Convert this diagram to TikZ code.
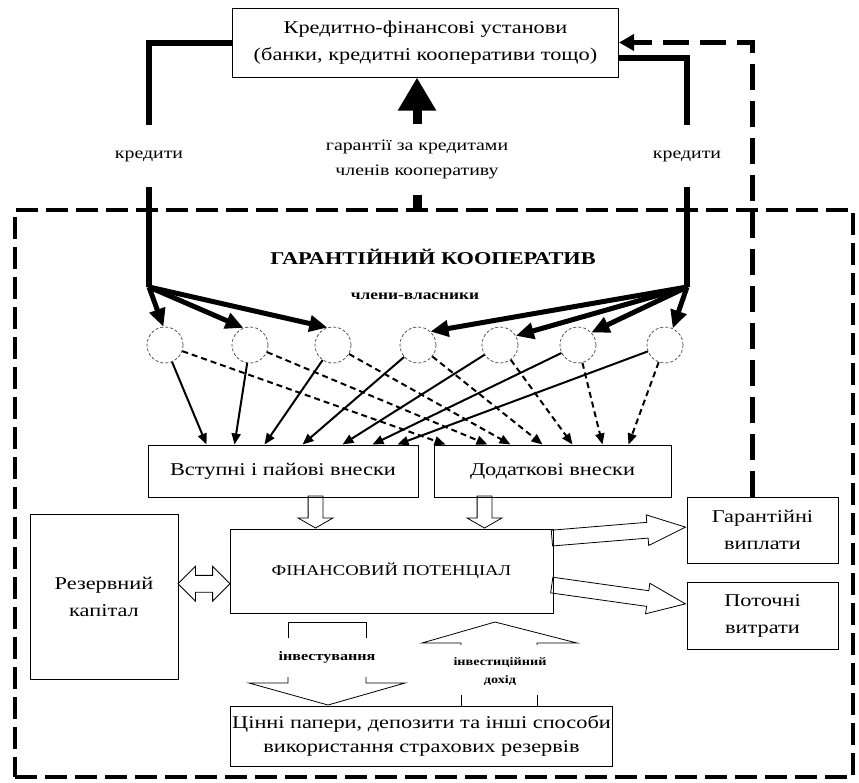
\documentclass[tikz,border=0pt]{standalone}
\usepackage{fontspec}
\setmainfont{Liberation Serif}[FakeStretch=1.24]
\usepackage{tikz}
\usetikzlibrary{arrows.meta,positioning,shapes.geometric,shapes.arrows,calc}

\begin{document}
\begin{tikzpicture}[
    x=1pt, y=1pt,
    box/.style={rectangle, draw=black, line width=1pt, fill=white, align=center, inner sep=2pt, font=\fontsize{18}{27}\selectfont},
    lbl/.style={align=center, inner sep=0pt, font=\fontsize{16}{25}\selectfont},
    member/.style={circle, draw=black!75, densely dashed, line width=0.7pt, minimum size=36pt, inner sep=0pt},
    thickline/.style={line width=6pt, line join=miter},
    fanarrow/.style={-{Triangle[length=18pt, width=16pt]}, line width=5pt},
    bigarrow/.style={-{Triangle[length=33pt, width=36pt]}, line width=9pt},
    solidarrow/.style={-{Triangle[length=11pt, width=9pt]}, line width=2pt},
    dasharrow/.style={-{Triangle[length=11pt, width=9pt]}, line width=2pt, dash pattern=on 6pt off 4pt},
    coopframe/.style={draw, line width=4.5pt, dash pattern=on 22pt off 8pt, inner sep=0pt},
    backarrow/.style={-{Triangle[length=15pt, width=16pt]}, line width=5pt, dash pattern=on 26pt off 11pt},
    hollow/.style={single arrow, draw, line width=0.8pt, inner sep=7pt, single arrow head extend=10pt, single arrow tip angle=120, anchor=tip},
    hollowline/.style={line width=0.8pt}
]
\useasboundingbox (0,0) rectangle (859,-782);

% cooperative frame
\node[coopframe, minimum width=838pt, minimum height=567pt] (coop) at (434,-493.5) {};

\node[box, minimum width=386pt, minimum height=69pt] (fin) at (425.5,-42.5) {Кредитно-фінансові установи\\(банки, кредитні кооперативи тощо)};
\node[lbl, minimum height=62pt] (kl) at (149,-156) {кредити};
\node[lbl, minimum height=62pt] (kr) at (687,-156) {кредити};
\node[lbl, minimum height=70pt] (gar) at (417,-159.5) {гарантії за кредитами\\членів кооперативу};

\node[font=\fontsize{18}{22}\selectfont\bfseries] (title) at (433,-257) {ГАРАНТІЙНИЙ КООПЕРАТИВ};
\node[font=\fontsize{14}{16}\selectfont\bfseries] (owners) at (415,-296) {члени-власники};

% members
\foreach \i/\x in {1/165,2/250,3/333,4/418,5/500,6/578,7/665}
  \node[member] (c\i) at (\x,-345) {};

\node[box, minimum width=270pt, minimum height=52pt] (vst) at (283,-471) {Вступні і пайові внески};
\node[box, minimum width=237pt, minimum height=52pt, right=15pt of vst] (dod) {Додаткові внески};
\node[box, minimum width=323pt, minimum height=84pt, font=\fontsize{15}{18}\selectfont] (fp) at (391.5,-571) {ФІНАНСОВИЙ ПОТЕНЦІАЛ};
\node[box, minimum width=148pt, minimum height=165pt] (rez) at (104,-596.5) {Резервний\\капітал};
\node[box, minimum width=151pt, minimum height=66pt] (gv) at (762.5,-530) {Гарантійні\\виплати};
\node[box, minimum width=151pt, minimum height=67pt, below=18pt of gv] (pv) {Поточні\\витрати};
\node[box, minimum width=377pt, minimum height=60pt, font=\fontsize{18}{24}\selectfont] (cp) at (421.5,-736) {Цінні папери, депозити та інші способи\\використання страхових резервів};

% credits and guarantees
\draw[thickline] (fin.west) -| (kl.north);
\coordinate (lsplit) at (149,-287);
\draw[thickline] (kl.south) -- (lsplit);
\draw[thickline] ($(fin.east)+(0,-15)$) -| (kr.north);
\coordinate (rsplit) at (687,-287);
\draw[thickline] (kr.south) -- (rsplit);
\draw[bigarrow] (gar.north) -- (gar.north |- fin.south);
\draw[line width=9pt] (gar.south) -- (gar.south |- coop.north);

\foreach \i/\a in {1/95,2/111,3/108}
  \draw[fanarrow] (lsplit) -- (c\i.\a);
\foreach \i/\a in {4/47,5/30,6/43,7/65}
  \draw[fanarrow] (rsplit) -- (c\i.\a);

% contributions
\foreach \i/\a/\b in {1/59/12,2/87/54,3/117/77,4/155/109,5/195/139,6/225/169,7/250/195} {
  \coordinate (s\i) at ($(vst.north west)+(\a,0)$);
  \coordinate (d\i) at ($(dod.north west)+(\b,0)$);
  \draw[solidarrow] (c\i) -- (s\i);
  \draw[dasharrow] (c\i) -- (d\i);
}

% hollow arrows
\node[hollow, rotate=-90, minimum height=32pt] (h1) at ($(fp.north west)+(86,0)$) {};
\node[hollow, rotate=-90, minimum height=32pt] (h2) at ($(fp.north west)+(255,0)$) {};
\node[double arrow, draw, line width=0.8pt, inner sep=8pt, double arrow head extend=9pt, double arrow tip angle=90, minimum height=52pt] (h3) at ($(rez.east)!0.5!(fp.west)$) {};
\node[hollow, inner sep=7.5pt, single arrow head extend=7.5pt, single arrow tip angle=44, rotate=4.7, minimum height=134pt] (h4) at ($(gv.west)+(0,3)$) {};
\node[hollow, inner sep=7.5pt, single arrow head extend=7.5pt, single arrow tip angle=44, rotate=-8, minimum height=135pt] (h5) at ($(pv.west)+(0,11.5)$) {};

\draw[backarrow] ($(gv.north)+(-10,0)$) |- (fin.east);

% investing and income
\draw[hollowline] (288,-638) -- (288,-622) -- (366,-622) -- (366,-638);
\node[font=\fontsize{13}{15}\selectfont\bfseries] (inv) at (327,-657) {інвестування};
\draw[hollowline] (288,-677) -- (288,-683) -- (249,-683) -- (328,-705) -- (405,-683) -- (366,-683) -- (366,-677);
\draw[hollowline] (461,-645) -- (461,-643) -- (422,-643) -- (495,-622) -- (577,-643) -- (537,-643) -- (537,-645);
\node[font=\fontsize{11.5}{18}\selectfont\bfseries, align=center] (inc) at (500,-671) {інвестиційний\\дохід};
\draw[hollowline] (461,-695) -- (461,-706);
\draw[hollowline] (537,-695) -- (537,-706);
\end{tikzpicture}
\end{document}
